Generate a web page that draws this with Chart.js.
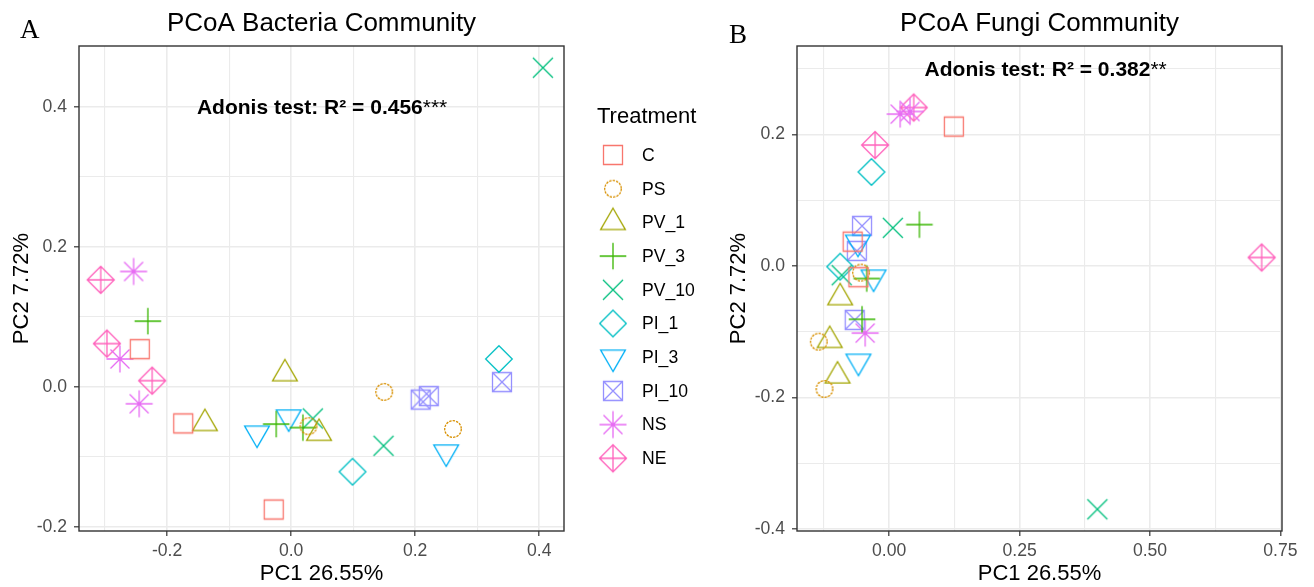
<!DOCTYPE html>
<html>
<head>
<meta charset="utf-8">
<script src="https://cdn.jsdelivr.net/npm/chart.js@4.4.1/dist/chart.umd.min.js"></script>
<style>
  html, body { margin: 0; padding: 0; background: #fff; }
  #wrap { position: relative; width: 1314px; height: 587px; overflow: hidden; }
  .panel { position: absolute; top: 0; height: 587px; }
  #panelA { left: 0; width: 720px; }
  #panelB { left: 720px; width: 594px; }
</style>
</head>
<body>
<div id="wrap">
  <div class="panel" id="panelA"><canvas id="chartA" width="720" height="587"></canvas></div>
  <div class="panel" id="panelB"><canvas id="chartB" width="594" height="587"></canvas></div>
</div>
<script>
// Treatments (ggplot default hue palette + shapes 0..9)
const treatments = ['C', 'PS', 'PV_1', 'PV_3', 'PV_10', 'PI_1', 'PI_3', 'PI_10', 'NS', 'NE'];
const treatmentColors = ['#F8766D', '#D89000', '#A3A500', '#39B600', '#00BF7D', '#00BFC4', '#00B0F6', '#9590FF', '#E76BF3', '#FF62BC'];
const treatmentShapes = ['square', 'circle', 'triangle', 'plus', 'cross', 'diamond', 'triangleDown', 'squareCross', 'asterisk', 'diamondPlus'];

// Panel A - bacteria (one row per treatment)
const bacteriaPC1 = [
  [-0.244, -0.174, -0.028],
  [0.028, 0.150, 0.261],
  [-0.010, -0.139, 0.045],
  [-0.231, -0.024, 0.019],
  [0.406, 0.035, 0.149],
  [0.335, 0.099],
  [-0.055, -0.004, 0.250],
  [0.209, 0.222, 0.340],
  [-0.254, -0.276, -0.245],
  [-0.307, -0.297, -0.224]
];
const bacteriaPC2 = [
  [0.054, -0.052, -0.175],
  [-0.056, -0.007, -0.060],
  [0.019, -0.052, -0.066],
  [0.094, -0.053, -0.058],
  [0.456, -0.045, -0.084],
  [0.040, -0.121],
  [-0.066, -0.043, -0.093],
  [-0.018, -0.013, 0.007],
  [0.165, 0.040, -0.024],
  [0.153, 0.062, 0.009]
];

// Panel B - fungi
const fungiPC1 = [
  [0.124, -0.070, -0.059],
  [-0.054, -0.135, -0.124],
  [-0.094, -0.114, -0.099],
  [0.058, -0.043, -0.052],
  [0.007, -0.091, 0.399],
  [-0.034, -0.094],
  [-0.060, -0.030, -0.059],
  [-0.052, -0.062, -0.066],
  [0.021, 0.040, -0.046],
  [0.047, -0.027, 0.714]
];
const fungiPC2 = [
  [0.212, 0.037, -0.017],
  [-0.010, -0.115, -0.187],
  [-0.048, -0.113, -0.167],
  [0.063, -0.019, -0.081],
  [0.058, -0.014, -0.370],
  [0.143, -0.001],
  [0.036, -0.017, -0.145],
  [0.061, 0.023, -0.082],
  [0.231, 0.235, -0.102],
  [0.241, 0.184, 0.013]
];

// Axis limits and ticks ('' label = minor gridline only)
const bacteriaXRange = [-0.342, 0.440];
const bacteriaYRange = [-0.2057, 0.487];
const bacteriaXTicks = [-0.3, -0.2, -0.1, 0, 0.1, 0.2, 0.3, 0.4];
const bacteriaXLabels = ['', '-0.2', '', '0.0', '', '0.2', '', '0.4'];
const bacteriaYTicks = [-0.2, -0.1, 0, 0.1, 0.2, 0.3, 0.4];
const bacteriaYLabels = ['-0.2', '', '0.0', '', '0.2', '', '0.4'];

const fungiXRange = [-0.1767, 0.753];
const fungiYRange = [-0.403, 0.3346];
const fungiXTicks = [-0.125, 0, 0.125, 0.25, 0.375, 0.5, 0.625, 0.75];
const fungiXLabels = ['', '0.00', '', '0.25', '', '0.50', '', '0.75'];
const fungiYTicks = [-0.4, -0.3, -0.2, -0.1, 0, 0.1, 0.2, 0.3];
const fungiYLabels = ['-0.4', '', '-0.2', '', '0.0', '', '0.2', ''];

const SANS = '"Liberation Sans", Arial, sans-serif';
Chart.defaults.font.family = SANS;

// Draw ggplot-like hollow point shapes into small canvases
function makeMarker(shape, color) {
  const size = 34, c = size / 2;
  const cv = document.createElement('canvas');
  cv.width = size;
  cv.height = size;
  const g = cv.getContext('2d');
  g.strokeStyle = color;
  g.lineWidth = 1.3;
  g.beginPath();
  const tri = (r, dir) => {
    const s = Math.sin(Math.PI / 3) * r;
    g.moveTo(c, c - dir * r);
    g.lineTo(c + s, c + dir * r / 2);
    g.lineTo(c - s, c + dir * r / 2);
    g.closePath();
  };
  const diamond = (r) => {
    g.moveTo(c, c - r); g.lineTo(c + r, c); g.lineTo(c, c + r); g.lineTo(c - r, c); g.closePath();
  };
  const plus = (r) => {
    g.moveTo(c - r, c); g.lineTo(c + r, c); g.moveTo(c, c - r); g.lineTo(c, c + r);
  };
  const cross = (r) => {
    g.moveTo(c - r, c - r); g.lineTo(c + r, c + r); g.moveTo(c - r, c + r); g.lineTo(c + r, c - r);
  };
  switch (shape) {
    case 'square': g.rect(c - 9.5, c - 9.5, 19, 19); break;
    case 'circle':
      g.setLineDash([2.4, 1.1]);
      g.arc(c, c, 8.3, 0, Math.PI * 2);
      break;
    case 'triangle': tri(14.3, 1); break;
    case 'triangleDown': tri(14.3, -1); break;
    case 'plus': plus(13.3); break;
    case 'cross': cross(10); break;
    case 'diamond': diamond(13.3); break;
    case 'squareCross': g.rect(c - 9.5, c - 9.5, 19, 19); cross(9.5); break;
    case 'asterisk': plus(13.5); cross(9.5); break;
    case 'diamondPlus': diamond(13.5); plus(13.5); break;
  }
  g.stroke();
  return cv;
}

const markers = treatments.map((t, i) => makeMarker(treatmentShapes[i], treatmentColors[i]));

function buildDatasets(pc1, pc2) {
  return treatments.map((name, i) => ({
    label: name,
    data: pc1[i].map((x, j) => ({ x: x, y: pc2[i][j] })),
    pointStyle: markers[i],
    pointRadius: 12,
    pointHoverRadius: 12,
    borderColor: treatmentColors[i],
    backgroundColor: treatmentColors[i]
  }));
}

function axis(range, ticks, labels, title, titlePad, isX, size) {
  return {
    type: 'linear',
    min: range[0],
    max: range[1],
    afterBuildTicks: (ax) => { ax.ticks = ticks.map(v => ({ value: v })); },
    afterFit: (ax) => { if (isX) ax.height = size; else ax.width = size; },
    ticks: {
      autoSkip: false,
      maxRotation: 0,
      padding: isX ? 5 : 7,
      color: '#4D4D4D',
      font: { size: 17.6 },
      callback: (value, index) => labels[index]
    },
    grid: {
      color: '#EBEBEB',
      lineWidth: (ctx) => labels[ctx.index] ? 1.6 : 1.1,
      tickLength: 5,
      tickWidth: 1.2,
      tickColor: (ctx) => labels[ctx.index] ? '#333333' : 'rgba(0,0,0,0)'
    },
    border: { display: false },
    title: {
      display: true,
      text: title,
      color: '#000000',
      font: { size: 22 },
      padding: isX ? { top: 0, bottom: 0 } : { top: titlePad, bottom: 0 }
    }
  };
}

// Panel decorations: border, title, letter, Adonis note, legend
const pcoaDecor = {
  id: 'pcoaDecor',
  afterDraw(chart, args, opts) {
    const { ctx, chartArea: a, scales } = chart;
    ctx.save();
    ctx.strokeStyle = '#333333';
    ctx.lineWidth = 1.4;
    ctx.strokeRect(a.left, a.top, a.right - a.left, a.bottom - a.top);

    ctx.fillStyle = '#000000';
    ctx.textBaseline = 'alphabetic';
    ctx.textAlign = 'center';
    ctx.font = '26px ' + SANS;
    ctx.fillText(opts.title, (a.left + a.right) / 2, 31);

    ctx.textAlign = 'left';
    ctx.font = '27px "Liberation Serif", "Times New Roman", serif';
    ctx.fillText(opts.letter, opts.letterX, opts.letterY);

    // Adonis annotation centred on its data position
    const cx = scales.x.getPixelForValue(opts.noteAt[0]);
    const cy = scales.y.getPixelForValue(opts.noteAt[1]);
    ctx.font = 'bold 21px ' + SANS;
    const w1 = ctx.measureText(opts.note).width;
    ctx.font = '21px ' + SANS;
    const w2 = ctx.measureText(opts.stars).width;
    const x0 = cx - (w1 + w2) / 2;
    ctx.font = 'bold 21px ' + SANS;
    ctx.fillText(opts.note, x0, cy + 7.5);
    ctx.font = '21px ' + SANS;
    ctx.fillText(opts.stars, x0 + w1, cy + 7.5);

    if (opts.legend) {
      const L = opts.legend;
      ctx.font = '22px ' + SANS;
      ctx.fillText('Treatment', L.titleX, L.titleY);
      ctx.font = '17.6px ' + SANS;
      ctx.textBaseline = 'middle';
      treatments.forEach((t, i) => {
        const y = L.firstY + i * L.step;
        const m = markers[i];
        ctx.drawImage(m, L.markerX - m.width / 2, y - m.height / 2);
        ctx.fillText(t, L.labelX, y + 1);
      });
    }
    ctx.restore();
  }
};

new Chart(document.getElementById('chartA'), {
  type: 'scatter',
  data: { datasets: buildDatasets(bacteriaPC1, bacteriaPC2) },
  options: {
    responsive: false,
    animation: false,
    layout: { padding: { left: 0, right: 156, top: 46, bottom: 0 } },
    plugins: {
      legend: { display: false },
      tooltip: { enabled: false },
      pcoaDecor: {
        title: 'PCoA Bacteria Community',
        letter: 'A', letterX: 20, letterY: 38,
        note: 'Adonis test: R\u00B2 = 0.456', stars: '***', noteAt: [0.05, 0.4],
        legend: { titleX: 597, titleY: 123, markerX: 613, labelX: 642, firstY: 155, step: 33.7 }
      }
    },
    scales: {
      x: axis(bacteriaXRange, bacteriaXTicks, bacteriaXLabels, 'PC1 26.55%', 0, true, 56),
      y: axis(bacteriaYRange, bacteriaYTicks, bacteriaYLabels, 'PC2 7.72%', 9, false, 79)
    }
  },
  plugins: [pcoaDecor]
});

new Chart(document.getElementById('chartB'), {
  type: 'scatter',
  data: { datasets: buildDatasets(fungiPC1, fungiPC2) },
  options: {
    responsive: false,
    animation: false,
    layout: { padding: { left: 0, right: 32, top: 46, bottom: 0 } },
    plugins: {
      legend: { display: false },
      tooltip: { enabled: false },
      pcoaDecor: {
        title: 'PCoA Fungi Community',
        letter: 'B', letterX: 9, letterY: 43,
        note: 'Adonis test: R\u00B2 = 0.382', stars: '**', noteAt: [0.3, 0.3]
      }
    },
    scales: {
      x: axis(fungiXRange, fungiXTicks, fungiXLabels, 'PC1 26.55%', 0, true, 56),
      y: axis(fungiYRange, fungiYTicks, fungiYLabels, 'PC2 7.72%', 6, false, 77)
    }
  },
  plugins: [pcoaDecor]
});
</script>
</body>
</html>
